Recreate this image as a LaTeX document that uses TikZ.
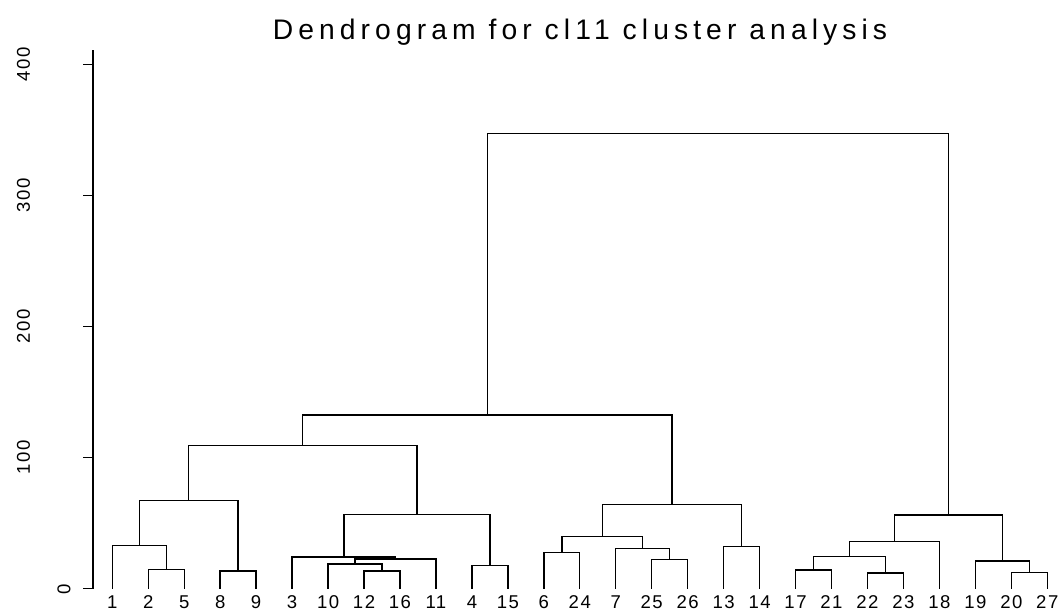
\documentclass[tikz,border=0pt]{standalone}
\usepackage{fontspec}
\setmainfont{Liberation Sans}
\newfontfamily\titlefont[LetterSpace=18]{Liberation Sans}
\newfontfamily\labelfont[LetterSpace=8]{Liberation Sans}

\tikzset{
  tree/.style={line width=1.05pt, line cap=rect},
  leaflabel/.style={inner sep=0pt, anchor=base, font=\labelfont\fontsize{13.9}{16}\selectfont},
  ticklabel/.style={inner sep=0pt, rotate=90, font=\labelfont\fontsize{13.9}{16}\selectfont},
  titlelabel/.style={inner sep=0pt, anchor=base, font=\titlefont\fontsize{21.2}{24}\selectfont}
}

\begin{document}
\begin{tikzpicture}[x=0.75pt, y=-0.75pt]
\useasboundingbox (0,0) rectangle (1061,611);

% title
\node[titlelabel] (title) at (580,39) {Dendrogram for cl11 cluster analysis};

% height axis: 0 at 588.3, 1.31 units per unit of height
\coordinate (axtop) at (93,50.7);
\coordinate (axbot) at (93,588.3);
\draw[tree] (axtop) -- (axbot);
\foreach \v in {0,100,200,300,400} {
  \coordinate (tk\v) at (93,{588.3-1.31*\v});
  \draw[tree] (tk\v) -- ++(-9,0);
}
\foreach \v in {100,200,300,400} {
  \node[ticklabel] (lab\v) at (23.5,{588.3-1.31*\v}) {\v};
}
\node[ticklabel] (lab0) at (64,589) {0};

% leaves in plotting order
\foreach \lab [count=\i] in {1,2,5,8,9,3,10,12,16,11,4,15,6,24,7,25,26,13,14,17,21,22,23,18,19,20,27} {
  \coordinate (l\lab) at ({112.3+35.96*(\i-1)},588.3);
  \node[leaflabel] (t\lab) at ({112.3+35.96*(\i-1)},608.5) {\lab};
}

% merge points (x = midpoint of the two children, y = merge height)
\coordinate (m25)   at (166.24,569.7);
\coordinate (m125)  at (139.27,545.3);
\coordinate (m89)   at (238.16,571.0);
\coordinate (mA1)   at (188.72,500.7);
\coordinate (m1216) at (382.00,571.0);
\coordinate (m10)   at (355.03,564.0);
\coordinate (m11)   at (395.49,559.0);
\coordinate (m3)    at (343.80,557.0);
\coordinate (m415)  at (489.88,565.7);
\coordinate (mA2)   at (416.84,514.3);
\coordinate (mA)    at (302.78,445.7);
\coordinate (m624)  at (561.80,552.3);
\coordinate (m2526) at (669.68,559.3);
\coordinate (m7)    at (642.71,548.7);
\coordinate (mC1)   at (602.26,536.7);
\coordinate (m1314) at (741.60,546.7);
\coordinate (mC)    at (671.93,504.3);
\coordinate (mB)    at (487.36,415.0);
\coordinate (m1721) at (813.52,570.0);
\coordinate (m2223) at (885.44,573.0);
\coordinate (mD1)   at (849.48,556.7);
\coordinate (mD)    at (894.43,541.7);
\coordinate (m2027) at (1029.28,572.7);
\coordinate (mE)    at (1002.31,561.0);
\coordinate (mR)    at (948.37,515.0);
\coordinate (root)  at (717.86,133.3);

% branches: up from each child, across at the merge height
\foreach \a/\m/\b in {
  l2/m25/l5, l1/m125/m25, l8/m89/l9, m125/mA1/m89,
  l12/m1216/l16, l10/m10/m1216, m10/m11/l11, l3/m3/m11,
  l4/m415/l15, m3/mA2/m415, mA1/mA/mA2,
  l6/m624/l24, l25/m2526/l26, l7/m7/m2526, m624/mC1/m7,
  l13/m1314/l14, mC1/mC/m1314, mA/mB/mC,
  l17/m1721/l21, l22/m2223/l23, m1721/mD1/m2223, mD1/mD/l18,
  l20/m2027/l27, l19/mE/m2027, mD/mR/mE, mB/root/mR} {
  \draw[tree] (\a) |- (\m) -| (\b);
}
\end{tikzpicture}
\end{document}
